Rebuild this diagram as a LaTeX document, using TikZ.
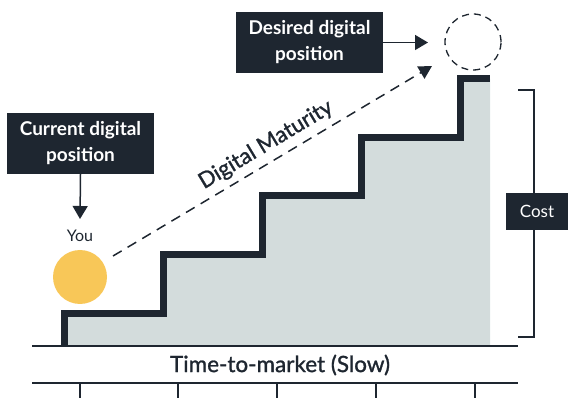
\documentclass[tikz,border=0pt]{standalone}
\usepackage{fontspec}
\setmainfont{Lato}
\newfontface\medfont{Lato}[FakeBold=1.2]
\usetikzlibrary{arrows.meta}
\definecolor{navy}{RGB}{30,38,48}
\definecolor{stairfill}{RGB}{211,220,220}
\definecolor{sun}{RGB}{248,199,88}
\begin{document}
\begin{tikzpicture}[x=1pt,y=-1pt,
  darkbox/.style={fill=navy,text=white,font=\bfseries\fontsize{19}{26}\selectfont,align=center,inner sep=0pt,minimum width=147pt,minimum height=61pt},
  thin line/.style={navy,line width=1.5pt},
  pointer/.style={navy,line width=1.5pt,-{Triangle[length=13pt,width=15pt]}},
  maturity/.style={navy,line width=1.5pt,dash pattern=on 10pt off 7pt,-{Triangle[length=13pt,width=14pt]}},
  plain label/.style={text=navy,inner sep=0pt}]
\useasboundingbox (0,0) rectangle (568,398);
% stairs
\fill[stairfill] (64,346) |- (163,314) |- (262,255) |- (361,196) |- (460,138) |- (490,79) -- (490,346) -- cycle;
\draw[navy,line width=7pt,miter limit=10] (64,346) |- (163,314) |- (262,255) |- (361,196) |- (460,138) |- (490,79);
% axis lines
\draw[thin line] (32,346) -- (518,346);
\draw[thin line] (32,383) -- (518,383);
\foreach \tx in {80,178,277,376,475} \draw[thin line] (\tx,383) -- (\tx,398);
\node[plain label,font=\medfont\fontsize{22.5}{26}\selectfont] (ttm) at (280,365) {Time-to-market (Slow)};
% cost bracket
\draw[thin line] (518,90) -| (534,337) -- (518,337);
\node[fill=navy,text=white,font=\fontsize{17}{20}\selectfont,inner sep=0pt,minimum width=62pt,minimum height=37pt] (cost) at (537,211.5) {Cost};
% current position
\node[darkbox] (cur) at (80.5,143.5) {Current digital\\position};
\coordinate (curtip) at (80,219);
\draw[pointer] (cur.south) -- (curtip);
\node[plain label,font=\fontsize{16}{20}\selectfont] (you) at (80,236) {You};
\node[circle,fill=sun,minimum size=54pt,inner sep=0pt] (sun) at (80,277) {};
% desired position
\node[darkbox] (des) at (309.5,42.5) {Desired digital\\position};
\node[circle,draw=navy,line width=1.3pt,dash pattern=on 7pt off 5pt,minimum size=56pt,inner sep=0pt] (goal) at (473,42) {};
\coordinate (destip) at (428,42.5);
\draw[pointer] (des.east) -- (destip);
% maturity path
\coordinate (mstart) at (113,256);
\coordinate (mend) at (432,66);
\draw[maturity] (mstart) -- (mend);
\node[plain label,font=\medfont\fontsize{22}{26}\selectfont,rotate=31] (dm) at (266,145) {Digital Maturity};
\end{tikzpicture}
\end{document}
